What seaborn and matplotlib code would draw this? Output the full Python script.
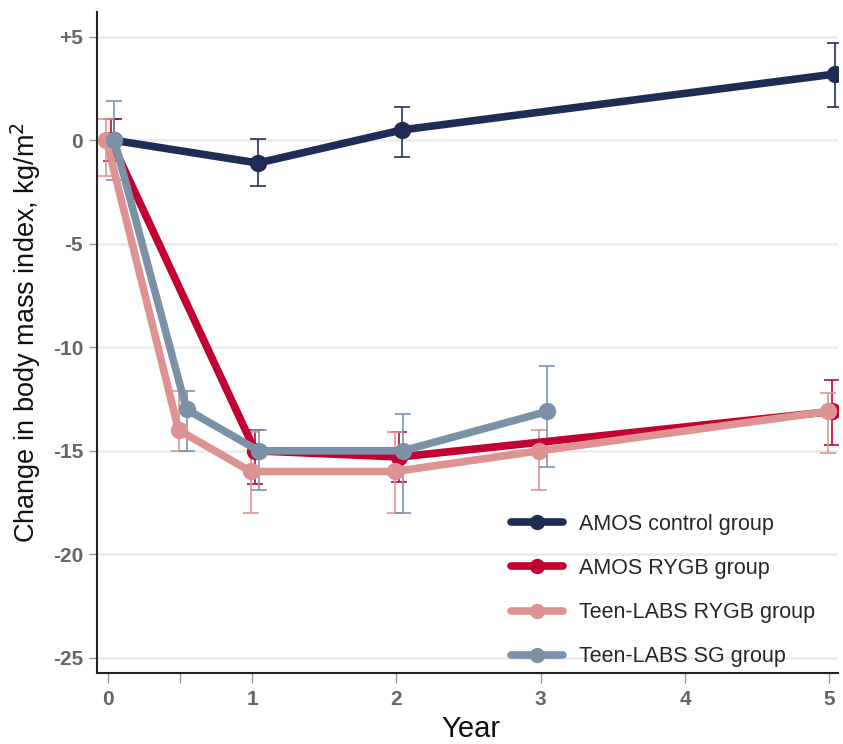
import numpy as np
import pandas as pd
import matplotlib
matplotlib.use('Agg')
import matplotlib.pyplot as plt
import seaborn as sns
from matplotlib.lines import Line2D

# data
groups = ['AMOS control group', 'AMOS RYGB group', 'Teen-LABS RYGB group', 'Teen-LABS SG group']

ctrl_year = [0, 1, 2, 5]
ctrl_bmi = [0.0, -1.1, 0.5, 3.2]
ctrl_lo = [-1.0, -2.2, -0.8, 1.6]
ctrl_hi = [1.05, 0.05, 1.6, 4.7]

rygb_year = [0, 1, 2, 5]
rygb_bmi = [0.0, -15.0, -15.3, -13.1]
rygb_lo = [-1.0, -16.6, -16.5, -14.7]
rygb_hi = [1.05, -14.0, -14.1, -11.6]

tl_rygb_year = [0, 0.5, 1, 2, 3, 5]
tl_rygb_bmi = [0.0, -14.0, -16.0, -16.0, -15.0, -13.1]
tl_rygb_lo = [-1.75, -15.0, -18.0, -18.0, -16.9, -15.1]
tl_rygb_hi = [1.05, -12.1, -14.1, -14.1, -14.0, -12.2]

tl_sg_year = [0, 0.5, 1, 2, 3]
tl_sg_bmi = [0.0, -13.0, -15.0, -15.0, -13.1]
tl_sg_lo = [-1.9, -15.0, -16.9, -18.0, -15.8]
tl_sg_hi = [1.9, -12.1, -14.0, -13.2, -10.9]

# small horizontal dodge so the error bars do not overlap
dodge = {groups[0]: 0.04, groups[1]: 0.02, groups[2]: -0.01, groups[3]: 0.045}
colors = {groups[0]: '#1f2c55', groups[1]: '#c30032',
          groups[2]: '#dd9391', groups[3]: '#7b91a8'}

frames = []
for g, yr, b, lo, hi in [(groups[0], ctrl_year, ctrl_bmi, ctrl_lo, ctrl_hi),
                          (groups[1], rygb_year, rygb_bmi, rygb_lo, rygb_hi),
                          (groups[2], tl_rygb_year, tl_rygb_bmi, tl_rygb_lo, tl_rygb_hi),
                          (groups[3], tl_sg_year, tl_sg_bmi, tl_sg_lo, tl_sg_hi)]:
    frames.append(pd.DataFrame({'group': g, 'year': yr, 'bmi': b, 'lo': lo, 'hi': hi}))
df = pd.concat(frames, ignore_index=True)
df['x'] = df['year'] + df['group'].map(dodge)

sns.set_style('white')
plt.rcParams['font.family'] = ['Liberation Sans', 'DejaVu Sans']

fig = plt.figure(figsize=(8.43, 7.44), dpi=100)
ax = fig.add_axes([0.115, 0.095, 0.879, 0.889])

for g in groups:
    d = df[df['group'] == g]
    ax.errorbar(d['x'], d['bmi'], yerr=[d['bmi'] - d['lo'], d['hi'] - d['bmi']],
                fmt='none', ecolor=colors[g], elinewidth=1.3, capsize=6, capthick=1.3,
                alpha=0.9, zorder=2)

for i, g in enumerate(groups):
    d = df[df['group'] == g]
    sns.lineplot(data=d, x='x', y='bmi', color=colors[g], linewidth=5.5, marker='o',
                 markersize=12.5, markeredgewidth=0, ax=ax, legend=False,
                 sort=False, zorder=3 + i)

ax.set_xlim(-0.076, 5.06)
ax.set_ylim(-25.75, 6.2)
ax.set_yticks([5, 0, -5, -10, -15, -20, -25])
ax.set_yticklabels(['+5', '0', '-5', '-10', '-15', '-20', '-25'])
ax.set_xticks([0, 0.5, 1, 2, 3, 4, 5])
ax.set_xticklabels(['0', '', '1', '2', '3', '4', '5'])
ax.yaxis.grid(True, color='#ececec', linewidth=2)
ax.set_axisbelow(True)

ax.tick_params(axis='y', left=True, length=6, width=1, color='#999999', pad=4,
               labelsize=15, labelcolor='#666666')
ax.tick_params(axis='x', bottom=True, length=7, width=1, color='#999999', pad=5,
               labelsize=15, labelcolor='#666666')
for lab in ax.get_xticklabels() + ax.get_yticklabels():
    lab.set_fontweight('bold')

for s in ['top', 'right']:
    ax.spines[s].set_visible(False)
for s in ['left', 'bottom']:
    ax.spines[s].set_color('#222222')
    ax.spines[s].set_linewidth(1.5)

ax.set_ylabel('Change in body mass index, kg/m$^2$', fontsize=19.5, color='#111111')
ax.yaxis.set_label_coords(-0.073, 0.516)
ax.set_xlabel('Year', fontsize=21, color='#111111', va='baseline')
ax.xaxis.set_label_coords(0.505, -0.097)

handles = [Line2D([], [], color=colors[g], linewidth=5.5, marker='o', markersize=11,
                  markeredgewidth=0) for g in groups]
ax.legend(handles, groups, loc='lower right', bbox_to_anchor=(0.981, -0.004), frameon=False,
          fontsize=15.5, handlelength=2.4, labelspacing=1.08, handletextpad=0.75,
          borderaxespad=0.0)

fig.savefig('out.png', dpi=100)
